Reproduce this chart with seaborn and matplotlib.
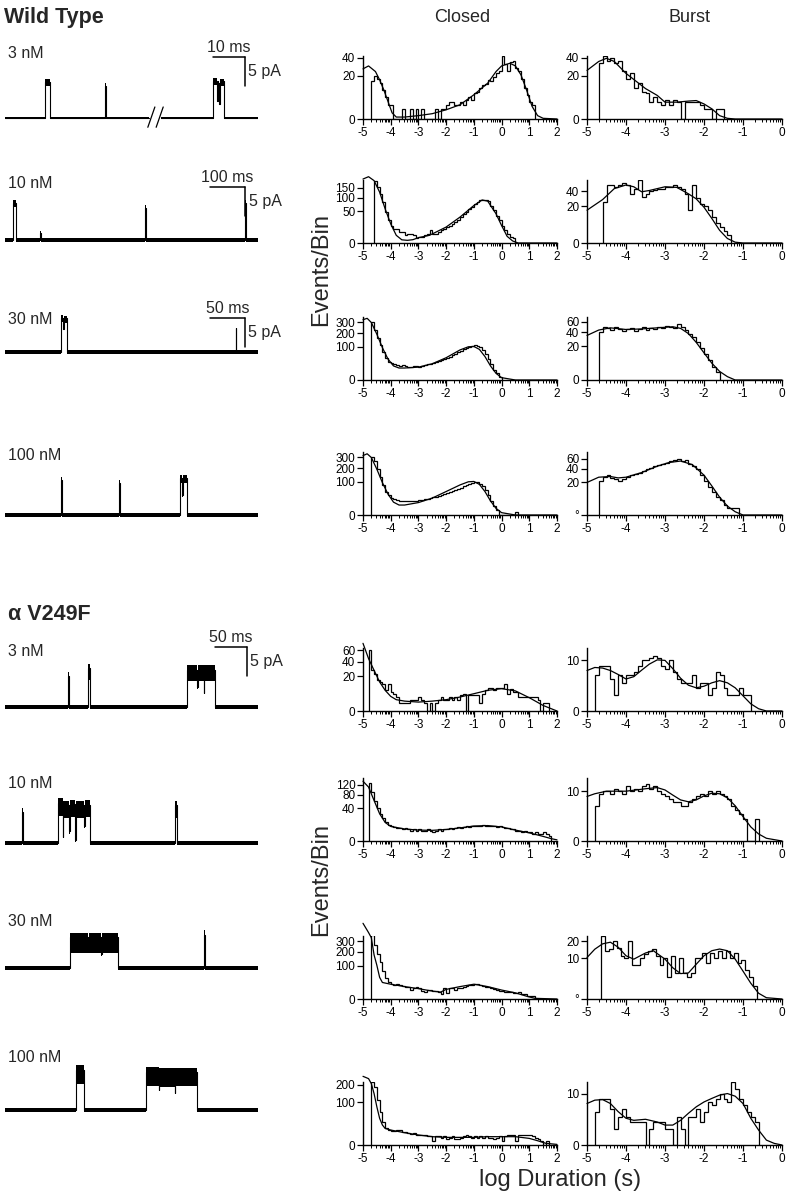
import numpy as np
import matplotlib
matplotlib.use("Agg")
import matplotlib.pyplot as plt
import seaborn as sns

# ======================= DATA =======================
BIN = 0.1  # log10 units per histogram bin

# ---- Wild type, 3 nM ----
wt3_closed_start = -4.7
wt3_closed_counts = [15, 20, 17, 14, 9, 5, 2, 2, 0, 0,
                     0, 1, 0, 0, 1, 0, 1, 0, 1, 0,
                     0, 0, 0, 1, 0, 1, 1, 2, 3, 3,
                     2, 2, 3, 2, 4, 5, 4, 7, 8, 10,
                     12, 13, 16, 15, 19, 22, 24, 42, 32, 24,
                     34, 35, 28, 24, 17, 10, 6, 3, 2]
wt3_closed_fit_x = [-5, -4.8, -4.55, -4.4, -4.25, -4.1, -3.95, -3.8, -3.5, -3.0, -2.5, -2.0,
                    -1.5, -1.0, -0.5, -0.2, 0.0, 0.3, 0.5, 0.7, 0.9, 1.1, 1.3, 1.5, 2.0]
wt3_closed_fit_y = [26.6, 29.8, 23.8, 16.2, 9.0, 3.3, 0.4, 0.04, 0.04, 0.12, 0.3, 0.9,
                    2.15, 6.2, 13.6, 23.8, 29.8, 32.9, 29.8, 20.6, 9.0, 1.7, 0.12, 0.005, 0.0]
wt3_burst_start = -4.7
wt3_burst_counts = [33, 42, 35, 40, 33, 35, 24, 17, 22, 10,
                    14, 8, 7, 3, 5, 3, 2, 4, 2, 4,
                    3, 0, 3, 3, 3, 3, 2, 1, 1, 0, 1, 1]
wt3_burst_fit_x = [-5, -4.7, -4.5, -4.3, -4.0, -3.5, -3.2, -3.0, -2.7, -2.4, -2.2, -2.0,
                   -1.8, -1.6, -1.4, -1.2, -1.0, 0]
wt3_burst_fit_y = [25, 35, 39, 35, 22, 9.8, 5.9, 3.0, 3.0, 3.4, 3.6, 2.4,
                   1.1, 0.12, 0.005, 0, 0, 0]

# ---- Wild type, 10 nM ----
wt10_closed_start = -4.6
wt10_closed_counts = [191, 152, 118, 82, 47, 25, 15, 10, 10, 6,
                      6, 3, 4, 4, 3, 1, 2, 2, 3, 4,
                      8, 4, 4, 6, 8, 10, 12, 15, 17, 21,
                      26, 33, 40, 47, 57, 63, 75, 82, 89, 89,
                      91, 86, 69, 52, 37, 25, 15, 8, 4, 2, 1]
wt10_closed_fit_x = [-5, -4.8, -4.6, -4.4, -4.2, -4.0, -3.8, -3.6, -3.4, -3.2, -3.0, -2.6,
                     -2.0, -1.5, -1.0, -0.7, -0.5, -0.2, 0.0, 0.2, 0.4, 0.6, 2.0]
wt10_closed_fit_y = [201, 216, 191, 127, 57, 18, 2.9, 0.5, 0.35, 0.54, 1.4, 2.9,
                     12.5, 33, 69, 91, 86, 42, 15, 2.2, 0.2, 0, 0]
wt10_burst_start = -4.6
wt10_burst_counts = [25, 50, 50, 47, 50, 53, 50, 36, 44, 59,
                     32, 36, 40, 42, 44, 44, 47, 47, 50, 47,
                     44, 36, 16, 50, 30, 23, 20, 16, 10, 6,
                     4, 2, 1]
wt10_burst_fit_x = [-5, -4.6, -4.3, -4.0, -3.8, -3.6, -3.4, -3.0, -2.7, -2.4, -2.2, -2.0,
                    -1.8, -1.6, -1.4, -1.2, -1.0, 0]
wt10_burst_fit_y = [16, 28, 44, 50, 47, 39, 41, 47, 46, 36, 29, 19,
                    9, 2.4, 0.3, 0.01, 0, 0]

# ---- Wild type, 30 nM ----
wt30_closed_start = -4.7
wt30_closed_counts = [300, 230, 160, 110, 70, 45, 30, 25, 22, 20,
                      18, 20, 17, 16, 15, 17, 18, 16, 18, 20,
                      22, 24, 26, 29, 33, 36, 40, 45, 50, 56,
                      62, 70, 78, 85, 92, 98, 104, 108, 104, 96,
                      80, 60, 40, 22, 10, 4, 1]
wt30_closed_fit_x = [-5, -4.85, -4.7, -4.5, -4.3, -4.1, -3.9, -3.7, -3.5, -3.0, -2.5, -2.0,
                     -1.5, -1.2, -1.0, -0.8, -0.6, -0.4, -0.2, 0.0, 0.5, 2.0]
wt30_closed_fit_y = [330, 345, 300, 190, 95, 40, 18, 13, 13, 15, 24, 45,
                     82, 100, 102, 85, 50, 18, 4, 0.5, 0, 0]
wt30_burst_start = -4.7
wt30_burst_counts = [40, 50, 47, 44, 49, 45, 42, 46, 48, 42,
                     45, 50, 44, 47, 45, 50, 48, 52, 50, 48,
                     55, 50, 44, 38, 33, 26, 18, 12, 7, 3, 1]
wt30_burst_fit_x = [-5, -4.7, -4.4, -4.0, -3.6, -3.2, -2.8, -2.6, -2.4, -2.2, -2.0, -1.8,
                    -1.6, -1.4, -1.2, 0]
wt30_burst_fit_y = [35, 44, 48, 45, 46, 48, 50, 47, 38, 25, 13, 5, 1.3, 0.2, 0, 0]

# ---- Wild type, 100 nM ----
wt100_closed_start = -4.7
wt100_closed_counts = [300, 260, 190, 130, 80, 50, 35, 27, 22, 20,
                       19, 18, 18, 17, 18, 18, 19, 20, 21, 22,
                       24, 26, 28, 30, 33, 36, 40, 44, 48, 52,
                       57, 62, 68, 74, 80, 88, 95, 100, 98, 90,
                       75, 55, 35, 18, 7, 2, 0, 0, 0, 0,
                       0, 0, 1]
wt100_closed_fit_x = [-5, -4.85, -4.7, -4.5, -4.3, -4.1, -3.9, -3.7, -3.5, -3.0, -2.5, -2.0,
                      -1.5, -1.2, -1.0, -0.8, -0.6, -0.4, -0.2, 0.0, 0.5, 2.0]
wt100_closed_fit_y = [320, 340, 300, 190, 95, 40, 15, 9, 9, 14, 26, 50,
                      82, 100, 102, 85, 50, 18, 4, 0.5, 0, 0]
wt100_burst_start = -4.7
wt100_burst_counts = [22, 28, 30, 26, 24, 22, 25, 28, 30, 32,
                      34, 36, 40, 42, 45, 48, 50, 52, 55, 58,
                      60, 55, 58, 50, 45, 40, 30, 22, 15, 10,
                      6, 4, 2, 1, 1, 1]
wt100_burst_fit_x = [-5, -4.7, -4.4, -4.2, -4.0, -3.6, -3.2, -2.9, -2.6, -2.3, -2.0, -1.8,
                     -1.6, -1.4, -1.2, -1.0, 0]
wt100_burst_fit_y = [20, 27, 28, 26, 27, 34, 45, 52, 55, 48, 30, 16, 6, 1.5, 0.2, 0, 0]

# ---- alpha V249F, 3 nM ----
v3_closed_start = -4.8
v3_closed_counts = [60, 27, 23, 16, 14, 12, 7, 12, 6, 5,
                    3, 1, 1, 1, 1, 2, 2, 2, 3, 2,
                    1, 0, 1, 0, 1, 2, 3, 2, 2, 3,
                    2, 3, 2, 4, 5, 0, 4, 4, 4, 4,
                    1, 5, 7, 9, 9, 7, 9, 9, 9, 12,
                    5, 8, 6, 6, 3, 3, 3, 3, 3, 3,
                    3, 2, 0, 1, 1]
v3_closed_fit_x = [-5, -4.8, -4.6, -4.4, -4.2, -4.0, -3.8, -3.5, -3.0, -2.5, -2.0, -1.5,
                   -1.0, -0.5, 0.0, 0.5, 1.0, 1.5, 2.0]
v3_closed_fit_y = [75, 45, 27, 13.8, 7, 3.5, 2.1, 1.6, 1.3, 1.6, 2.1, 3.2,
                   4.9, 7, 8.2, 6.6, 2.9, 0.5, 0.0]
v3_burst_start = -4.8
v3_burst_counts = [5, 8, 8, 8, 4, 1, 5, 3, 5, 5,
                   6, 8, 10, 10, 11, 12, 11, 8, 7, 10,
                   6, 4, 3, 3, 3, 5, 2, 3, 3, 1,
                   2, 6, 5, 2, 1, 1, 1, 2, 1, 1]
v3_burst_fit_x = [-5, -4.8, -4.6, -4.4, -4.2, -4.0, -3.8, -3.6, -3.4, -3.2, -3.0, -2.8,
                  -2.6, -2.4, -2.2, -2.0, -1.8, -1.6, -1.4, -1.2, -1.0, -0.8, -0.6, -0.4, 0]
v3_burst_fit_y = [6.4, 7.4, 7.2, 6.4, 5.2, 4.0, 4.6, 6.5, 8.6, 10.2, 10.0, 7.0,
                  4.2, 2.6, 2.1, 2.4, 3.1, 3.6, 3.1, 2.1, 0.9, 0.2, 0.02, 0.0, 0]

# ---- alpha V249F, 10 nM ----
v10_closed_start = -4.8
v10_closed_counts = [125, 90, 60, 40, 28, 20, 14, 10, 8, 7,
                     6, 6, 5, 6, 5, 4, 5, 4, 5, 4,
                     4, 5, 4, 3, 4, 5, 4, 5, 5, 6,
                     5, 6, 7, 6, 7, 8, 7, 8, 9, 8,
                     9, 10, 9, 8, 9, 8, 7, 8, 7, 6,
                     6, 5, 5, 4, 4, 3, 4, 3, 3, 2,
                     3, 2, 2, 3, 2, 1]
v10_closed_fit_x = [-5, -4.8, -4.6, -4.4, -4.2, -4.0, -3.5, -3.0, -2.5, -2.0, -1.5, -1.0,
                    -0.5, 0.0, 0.5, 1.0, 1.5, 1.8, 2.0]
v10_closed_fit_y = [135, 110, 62, 28, 13, 8, 5.5, 4.5, 4.3, 5, 6.5, 8.5,
                    9, 7.5, 4.5, 2.5, 0.8, 0.2, 0.05]
v10_burst_start = -4.8
v10_burst_counts = [5, 9, 10, 10, 9, 11, 10, 9, 12, 10,
                    11, 10, 12, 13, 11, 12, 10, 9, 8, 7,
                    6, 6, 5, 5, 6, 7, 8, 9, 8, 10,
                    9, 10, 9, 8, 7, 5, 4, 3, 2, 0,
                    0, 2]
v10_burst_fit_x = [-5, -4.8, -4.5, -4.0, -3.5, -3.2, -3.0, -2.8, -2.6, -2.4, -2.2, -2.0,
                   -1.8, -1.6, -1.4, -1.2, -1.0, -0.8, -0.6, -0.4, 0]
v10_burst_fit_y = [8, 9, 10, 10, 11, 11.5, 10.5, 8.5, 6.8, 6.2, 6.8, 8.2,
                   9.2, 9.0, 7.5, 5.0, 2.4, 0.8, 0.2, 0.03, 0]

# ---- alpha V249F, 30 nM ----
v30_closed_start = -4.7
v30_closed_counts = [370, 260, 180, 120, 70, 40, 25, 20, 18, 20,
                     17, 15, 14, 12, 8, 10, 12, 10, 6, 5,
                     7, 8, 6, 6, 4, 2, 10, 3, 10, 10,
                     8, 10, 11, 13, 15, 17, 18, 19, 20, 18,
                     16, 14, 12, 10, 9, 8, 6, 6, 5, 4,
                     4, 3, 3, 5, 2, 2, 1, 1, 1]
v30_closed_fit_x = [-5, -4.8, -4.7, -4.6, -4.5, -4.4, -4.3, -4.0, -3.5, -3.0, -2.5, -2.2,
                    -2.0, -1.5, -1.0, -0.5, 0.0, 0.5, 0.9, 1.2, 2.0]
v30_closed_fit_y = [514, 396, 337, 174, 102, 42, 24.5, 19.6, 13.8, 9.6, 5.6, 4.3,
                    8.3, 13.8, 19.6, 13.8, 7.2, 3.4, 0.7, 0.04, 0]
v30_burst_start = -4.64
v30_burst_counts = [24, 14, 15, 20, 16, 11, 10, 20, 7, 7,
                    10, 12, 14, 15, 11, 7, 10, 3, 11, 4,
                    10, 4, 3, 4, 10, 10, 13, 8, 13, 10,
                    14, 10, 14, 10, 13, 8, 9, 5, 3, 1]
v30_burst_fit_x = [-5, -4.8, -4.6, -4.4, -4.2, -4.0, -3.8, -3.5, -3.3, -3.0, -2.8, -2.6,
                   -2.4, -2.2, -2.0, -1.8, -1.6, -1.4, -1.2, -1.0, -0.8, -0.6, -0.4, 0]
v30_burst_fit_y = [10.4, 15, 18.4, 19.5, 16.2, 11.3, 9.6, 12.8, 14.1, 9.6, 5.9, 3.9,
                   4.1, 7.3, 11.3, 14.1, 15.1, 14.1, 9.6, 4.7, 1.5, 0.2, 0.01, 0]

# ---- alpha V249F, 100 nM ----
v100_closed_start = -4.7
v100_closed_counts = [219, 185, 110, 60, 28, 16, 12, 11, 11, 12,
                      12, 10, 9, 8, 7, 8, 6, 5, 6, 5,
                      4, 4, 1, 4, 4, 3, 4, 2, 3, 4,
                      2, 2, 3, 4, 5, 4, 3, 4, 3, 4,
                      3, 4, 3, 3, 2, 3, 4, 1, 4, 5,
                      6, 6, 1, 5, 5, 6, 5, 5, 4, 3,
                      2, 1, 0, 1]
v100_closed_fit_x = [-5, -4.8, -4.7, -4.6, -4.5, -4.4, -4.3, -4.2, -4.0, -3.5, -3.0, -2.5,
                     -2.0, -1.5, -1.0, -0.5, 0.0, 0.5, 1.0, 1.3, 1.6, 2.0]
v100_closed_fit_y = [259, 242, 207, 145, 80, 39, 22, 15, 12.3, 8.3, 5.5, 3.8,
                     3.2, 3.2, 3.2, 3.8, 3.8, 3.8, 2.4, 1.0, 0.15, 0.02]
v100_burst_start = -4.8
v100_burst_counts = [4, 8, 8, 8, 5, 1, 3, 5, 3, 2,
                     2, 2, 2, 0, 1, 2, 2, 2, 1, 1,
                     0, 3, 1, 0, 3, 3, 5, 2, 4, 7,
                     6, 8, 10, 8, 7, 15, 12, 8, 6, 4,
                     3, 2]
v100_burst_fit_x = [-5, -4.8, -4.6, -4.4, -4.2, -4.0, -3.8, -3.5, -3.2, -3.0, -2.8, -2.6,
                    -2.4, -2.2, -2.0, -1.8, -1.6, -1.4, -1.2, -1.0, -0.8, -0.6, -0.4, -0.2, 0]
v100_burst_fit_y = [6.5, 7.6, 7.8, 6.5, 4.2, 2.7, 2.3, 2.5, 2.0, 1.5, 1.5, 2.3,
                    3.8, 5.5, 7.0, 8.2, 9.4, 10, 9.0, 6.5, 2.7, 0.84, 0.09, 0.01, 0]

# ---- single-channel traces: (start ms, end ms, amplitude pA) ----
wt3_trace_ms = 79.0
wt3_events = [(12.5, 14.1, 6.2), (31.1, 31.4, 5.6),
              (65.0, 66.2, 6.4), (66.2, 66.5, 3.0), (66.5, 66.9, 6.0),
              (66.9, 67.2, 2.5), (67.2, 68.4, 6.3)]
wt3_gap_ms = (45.0, 48.8)
wt10_trace_ms = 723.0
wt10_events = [(22.0, 31.0, 6.4), (100.0, 101.5, 1.2), (401.0, 403.0, 5.5), (687.0, 689.5, 6.4)]
wt30_trace_ms = 361.0
wt30_events = [(80.0, 83.0, 5.9), (83.0, 84.0, 4.0), (84.0, 89.0, 5.8), (329.0, 330.0, 4.1)]
wt100_trace_ms = 361.0
wt100_events = [(80.0, 81.5, 6.0), (163.0, 164.5, 5.5),
                (250.0, 253.0, 6.4), (253.0, 254.0, 3.5), (254.0, 260.0, 6.3)]
v3_trace_ms = 395.0
v3_events = [(99.0, 100.0, 5.3), (130.0, 133.0, 6.7),
             (284.0, 300.0, 6.4), (300.0, 301.5, 3.5), (301.5, 310.0, 6.4),
             (310.0, 311.0, 2.5), (311.0, 328.0, 6.4)]
v10_trace_ms = 395.0
v10_events = [(26.0, 27.5, 5.3), (83.0, 90.0, 6.9), (90.0, 91.0, 1.0), (91.0, 100.0, 6.5),
              (100.0, 101.0, 2.0), (101.0, 110.0, 6.7), (110.0, 111.0, 0.5),
              (111.0, 124.0, 6.5), (124.0, 125.0, 3.0), (125.0, 133.0, 6.6), (266.0, 268.0, 6.5)]
v30_trace_ms = 395.0
v30_events = [(102.0, 130.0, 5.3), (130.0, 131.0, 3.0), (131.0, 150.0, 5.3),
              (150.0, 151.0, 2.5), (151.0, 177.0, 5.3), (311.0, 312.5, 5.7)]
v100_trace_ms = 395.0
v100_events = [(111.0, 123.0, 6.9), (220.0, 240.0, 6.6), (240.0, 241.0, 3.5),
               (241.0, 265.0, 6.4), (265.0, 266.0, 3.0), (266.0, 300.0, 6.5)]

# ======================= STYLE =======================
sns.set_theme(style="white")
plt.rcParams['font.family'] = ['Liberation Sans', 'DejaVu Sans']
plt.rcParams['axes.unicode_minus'] = False

W, H = 792, 1200
fig = plt.figure(figsize=(W / 100, H / 100), dpi=100)
fig.patch.set_facecolor('white')


def px_axes(left, top, width, height):
    return fig.add_axes([left / W, 1 - (top + height) / H, width / W, height / H])


def sqrt_f(v):
    return np.sqrt(np.clip(v, 0, None))


def sqrt_i(v):
    return np.asarray(v) ** 2


AX_H = 63
TICK_FS = 8.5
LABEL_FS = 11.5


def hist_panel(left, width, bottom_px, xmax, start, counts, fx, fy, ymax, yticks, ylabels):
    ax = px_axes(left, bottom_px - AX_H, width, AX_H)
    edges = start + BIN * np.arange(len(counts) + 1)
    ax.stairs(counts, edges, color='black', lw=0.9, baseline=0)
    sns.lineplot(x=fx, y=fy, ax=ax, color='black', lw=0.9, clip_on=False)
    ax.set_yscale('function', functions=(sqrt_f, sqrt_i))
    ax.set_ylim(0, ymax)
    ax.set_xlim(-5, xmax)
    ax.set_facecolor('none')
    for s in ['top', 'right']:
        ax.spines[s].set_visible(False)
    for s in ['left', 'bottom']:
        ax.spines[s].set_color('black')
        ax.spines[s].set_linewidth(1.0)
    xt = list(range(-5, xmax + 1))
    ax.set_xticks(xt)
    ax.set_xticklabels([str(v) for v in xt], fontsize=TICK_FS)
    minors = [n + np.log10(k) for n in range(-5, xmax) for k in range(2, 10)]
    ax.set_xticks(minors, minor=True)
    ax.set_yticks(yticks)
    ax.set_yticklabels(ylabels, fontsize=TICK_FS)
    ax.set_yticks([], minor=True)
    ax.tick_params(axis='both', which='major', direction='out', length=4, width=0.9,
                   pad=1.5, colors='black', labelcolor='black')
    ax.tick_params(axis='x', which='minor', direction='out', length=1.8, width=0.7,
                   colors='black', bottom=True)
    ax.tick_params(axis='x', which='major', bottom=True)
    ax.tick_params(axis='y', which='major', left=True)
    ax.grid(False)
    return ax


def step_path(events, t0, t1):
    ts, ys = [t0], [0.0]
    last = t0
    for a0, a1, amp in events:
        if a0 > last:
            ts += [last, a0]
            ys += [0.0, 0.0]
        ts += [a0, a1]
        ys += [amp, amp]
        last = a1
    ts += [last, t1]
    ys += [0.0, 0.0]
    return np.array(ts), np.array(ys)


PA_PX = 5.8


def trace_panel(baseline_px, total_ms, events, noise, open_lo, open_hi, gap=None):
    ax = px_axes(5, baseline_px - 60, 253, 72)
    ax.set_xlim(0, total_ms)
    ax.set_ylim(-12 / PA_PX, 60 / PA_PX)
    ax.axis('off')
    if gap is None:
        parts = [(0, total_ms, events)]
    else:
        parts = [(0, gap[0], [e for e in events if e[1] <= gap[0]]),
                 (gap[1], total_ms, [e for e in events if e[0] >= gap[1]])]
    for a, b, evs in parts:
        ts, ys = step_path(evs, a, b)
        is_open = (ys > 4.5).astype(float)
        lo = ys - noise - open_lo * is_open
        hi = ys + noise + open_hi * is_open
        ax.fill_between(ts, lo, hi, color='black', lw=0)
        ax.plot(ts, ys, color='black', lw=0.8)
    return ax


def scale_bar(ax, total_ms, right_px, bar_px, ms, label):
    ms_per_px = total_ms / 253.0
    tr = (right_px - 5) * ms_per_px
    yb = bar_px / PA_PX
    ax.plot([tr - ms, tr], [yb, yb], color='black', lw=1.1, clip_on=False)
    ax.plot([tr, tr], [yb, yb - 5], color='black', lw=1.1, clip_on=False)
    ax.text(tr - ms / 2, yb + 0.4, label, ha='center', va='bottom', fontsize=LABEL_FS,
            clip_on=False)
    ax.text(tr + 3.5 * ms_per_px, yb - 2.5, '5 pA', ha='left', va='center',
            fontsize=LABEL_FS, clip_on=False)


# ======================= LAYOUT =======================
CL, CW = 363, 194   # closed column
BL, BW = 587, 195   # burst column

hist_panel(CL, CW, 119, 2, wt3_closed_start, wt3_closed_counts, wt3_closed_fit_x,
           wt3_closed_fit_y, 42, [0, 20, 40], ['0', '20', '40'])
hist_panel(BL, BW, 119, 0, wt3_burst_start, wt3_burst_counts, wt3_burst_fit_x,
           wt3_burst_fit_y, 42, [0, 20, 40], ['0', '20', '40'])
hist_panel(CL, CW, 243, 2, wt10_closed_start, wt10_closed_counts, wt10_closed_fit_x,
           wt10_closed_fit_y, 195, [0, 50, 100, 150], ['0', '50', '100', '150'])
hist_panel(BL, BW, 243, 0, wt10_burst_start, wt10_burst_counts, wt10_burst_fit_x,
           wt10_burst_fit_y, 59, [0, 20, 40], ['0', '20', '40'])
hist_panel(CL, CW, 380, 2, wt30_closed_start, wt30_closed_counts, wt30_closed_fit_x,
           wt30_closed_fit_y, 360, [0, 100, 200, 300], ['0', '100', '200', '300'])
hist_panel(BL, BW, 380, 0, wt30_burst_start, wt30_burst_counts, wt30_burst_fit_x,
           wt30_burst_fit_y, 70, [0, 20, 40, 60], ['0', '20', '40', '60'])
hist_panel(CL, CW, 515, 2, wt100_closed_start, wt100_closed_counts, wt100_closed_fit_x,
           wt100_closed_fit_y, 360, [0, 100, 200, 300], ['0', '100', '200', '300'])
hist_panel(BL, BW, 515, 0, wt100_burst_start, wt100_burst_counts, wt100_burst_fit_x,
           wt100_burst_fit_y, 75, [0, 20, 40, 60], ['\u00b0', '20', '40', '60'])

hist_panel(CL, CW, 711, 2, v3_closed_start, v3_closed_counts, v3_closed_fit_x,
           v3_closed_fit_y, 65, [0, 20, 40, 60], ['0', '20', '40', '60'])
hist_panel(BL, BW, 711, 0, v3_burst_start, v3_burst_counts, v3_burst_fit_x,
           v3_burst_fit_y, 15.5, [0, 10], ['0', '10'])
hist_panel(CL, CW, 841, 2, v10_closed_start, v10_closed_counts, v10_closed_fit_x,
           v10_closed_fit_y, 150, [0, 40, 80, 120], ['0', '40', '80', '120'])
hist_panel(BL, BW, 841, 0, v10_burst_start, v10_burst_counts, v10_burst_fit_x,
           v10_burst_fit_y, 16, [0, 10], ['0', '10'])
hist_panel(CL, CW, 999, 2, v30_closed_start, v30_closed_counts, v30_closed_fit_x,
           v30_closed_fit_y, 356, [0, 100, 200, 300], ['0', '100', '200', '300'])
hist_panel(BL, BW, 999, 0, v30_burst_start, v30_burst_counts, v30_burst_fit_x,
           v30_burst_fit_y, 24, [0, 10, 20], ['\u00b0', '10', '20'])
hist_panel(CL, CW, 1145, 2, v100_closed_start, v100_closed_counts, v100_closed_fit_x,
           v100_closed_fit_y, 218, [0, 100, 200], ['0', '100', '200'])
hist_panel(BL, BW, 1145, 0, v100_burst_start, v100_burst_counts, v100_burst_fit_x,
           v100_burst_fit_y, 15, [0, 10], ['0', '10'])

# traces
ax = trace_panel(118, wt3_trace_ms, wt3_events, 0.25, 0.5, 0.2, gap=wt3_gap_ms)
g0, g1 = wt3_gap_ms
ax.plot([g0 - 0.4, g0 + 1.8], [-1.6, 1.9], color='black', lw=0.9, clip_on=False)
ax.plot([g1 - 1.6, g1 + 0.6], [-1.6, 1.9], color='black', lw=0.9, clip_on=False)
scale_bar(ax, wt3_trace_ms, 245, 61, 10, '10 ms')

ax = trace_panel(240, wt10_trace_ms, wt10_events, 0.28, 0.4, 0.2)
scale_bar(ax, wt10_trace_ms, 245, 53, 100, '100 ms')

ax = trace_panel(352, wt30_trace_ms, wt30_events, 0.28, 0.5, 0.2)
scale_bar(ax, wt30_trace_ms, 245, 34, 50, '50 ms')

trace_panel(515, wt100_trace_ms, wt100_events, 0.32, 0.5, 0.2)

ax = trace_panel(707, v3_trace_ms, v3_events, 0.4, 1.6, 0.4)
scale_bar(ax, v3_trace_ms, 247, 60, 50, '50 ms')

trace_panel(843, v10_trace_ms, v10_events, 0.4, 1.8, 0.4)
trace_panel(968, v30_trace_ms, v30_events, 0.4, 2.4, 0.4)
trace_panel(1110, v100_trace_ms, v100_events, 0.4, 2.0, 0.4)

# ======================= TEXT =======================
def ftext(x, y, s, **kw):
    fig.text(x / W, 1 - y / H, s, **kw)


ftext(4, 18, 'Wild Type', fontsize=15.5, fontweight='bold', ha='left', va='center')
ftext(8, 615, '\u03b1 V249F', fontsize=15.5, fontweight='bold', ha='left', va='center')
for y, s in [(53, '3 nM'), (184, '10 nM'), (319, '30 nM'), (456, '100 nM'),
             (652, '3 nM'), (783, '10 nM'), (921, '30 nM'), (1058, '100 nM')]:
    ftext(8, y, s, fontsize=LABEL_FS, ha='left', va='center')

ftext(462, 18, 'Closed', fontsize=13, ha='center', va='center')
ftext(690, 18, 'Burst', fontsize=13, ha='center', va='center')
ftext(321, 270, 'Events/Bin', fontsize=17, rotation=90, ha='center', va='center')
ftext(321, 880, 'Events/Bin', fontsize=17, rotation=90, ha='center', va='center')
ftext(560, 1180, 'log Duration (s)', fontsize=17, ha='center', va='center')

fig.savefig('out.png', dpi=100, facecolor='white')
